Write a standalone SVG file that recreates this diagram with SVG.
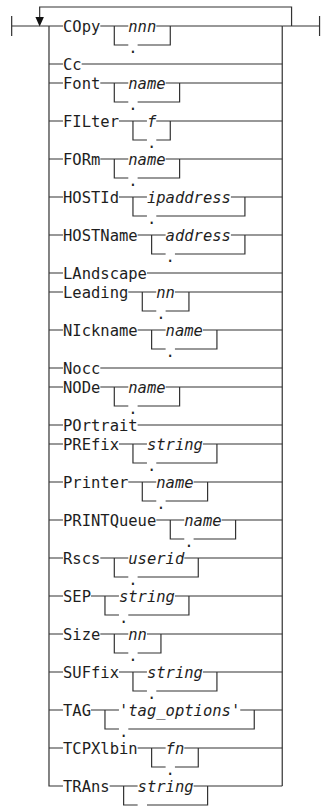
<svg xmlns="http://www.w3.org/2000/svg" width="321" height="806" viewBox="0 0 321 806">
<style>
text{font-family:"DejaVu Sans Mono","Liberation Mono",monospace;font-size:15.5px;fill:#1e1e1e}
.a{font-style:italic}
.d{text-anchor:middle}
path{fill:none;stroke:#333;stroke-width:1.2}
.ah{fill:#111;stroke:none}
</style>
<rect width="321" height="806" fill="#fff"/>
<g id="connectors">
<path d="M11.67 16V36M11.67 26H48.99M282.24 26H319.56M319.56 16V36"/>
<path d="M291.57 26V7H39.66V18"/>
<polygon class="ah" points="35.4,17 43.9,17 39.66,26.5"/>
<path d="M48.99 26V786H62.98M282.24 26V786"/>
<!-- COpy -->
<path d="M48.99 26H62.98M100.30 26H128.29M156.28 26H282.24M114.30 26V45H128.29M137.62 45H170.28V26"/>
<!-- Cc -->
<path d="M48.99 64H62.98M81.64 64H282.24"/>
<!-- Font -->
<path d="M48.99 83H62.98M100.30 83H128.29M165.61 83H282.24M114.30 83V102H128.29M137.62 102H179.61V83"/>
<!-- FILter -->
<path d="M48.99 121H62.98M118.96 121H146.95M156.28 121H282.24M132.96 121V140H146.95M156.28 140H170.28V121"/>
<!-- FORm -->
<path d="M48.99 159H62.98M100.30 159H128.29M165.61 159H282.24M114.30 159V178H128.29M137.62 178H179.61V159"/>
<!-- HOSTId -->
<path d="M48.99 197H62.98M118.96 197H146.95M230.92 197H282.24M132.96 197V216H146.95M156.28 216H244.92V197"/>
<!-- HOSTName -->
<path d="M48.99 235H62.98M137.62 235H165.61M230.92 235H282.24M151.62 235V254H165.61M174.94 254H244.92V235"/>
<!-- LAndscape -->
<path d="M48.99 273H62.98M146.95 273H282.24"/>
<!-- Leading -->
<path d="M48.99 292H62.98M128.29 292H156.28M174.94 292H282.24M142.29 292V311H156.28M165.61 311H188.94V292"/>
<!-- NIckname -->
<path d="M48.99 330H62.98M137.62 330H165.61M202.93 330H282.24M151.62 330V349H165.61M174.94 349H216.93V330"/>
<!-- Nocc -->
<path d="M48.99 368H62.98M100.30 368H282.24"/>
<!-- NODe -->
<path d="M48.99 387H62.98M100.30 387H128.29M165.61 387H282.24M114.30 387V406H128.29M137.62 406H179.61V387"/>
<!-- POrtrait -->
<path d="M48.99 425H62.98M137.62 425H282.24"/>
<!-- PREfix -->
<path d="M48.99 444H62.98M118.96 444H146.95M202.93 444H282.24M132.96 444V463H146.95M156.28 463H216.93V444"/>
<!-- Printer -->
<path d="M48.99 482H62.98M128.29 482H156.28M193.60 482H282.24M142.29 482V501H156.28M165.61 501H207.60V482"/>
<!-- PRINTQueue -->
<path d="M48.99 520H62.98M156.28 520H184.27M221.59 520H282.24M170.28 520V539H184.27M193.60 539H235.59V520"/>
<!-- Rscs -->
<path d="M48.99 558H62.98M100.30 558H128.29M184.27 558H282.24M114.30 558V577H128.29M137.62 577H198.27V558"/>
<!-- SEP -->
<path d="M48.99 596H62.98M90.97 596H118.96M174.94 596H282.24M104.97 596V615H118.96M128.29 615H188.94V596"/>
<!-- Size -->
<path d="M48.99 634H62.98M100.30 634H128.29M146.95 634H282.24M114.30 634V653H128.29M137.62 653H160.95V634"/>
<!-- SUFfix -->
<path d="M48.99 672H62.98M118.96 672H146.95M202.93 672H282.24M132.96 672V691H146.95M156.28 691H216.93V672"/>
<!-- TAG -->
<path d="M48.99 710H62.98M90.97 710H118.96M240.25 710H282.24M104.97 710V729H118.96M128.29 729H254.25V710"/>
<!-- TCPXlbin -->
<path d="M48.99 748H62.98M137.62 748H165.61M184.27 748H282.24M151.62 748V767H165.61M174.94 767H198.27V748"/>
<!-- TRAns -->
<path d="M109.63 786H137.62M193.60 786H282.24M123.63 786V805H137.62M146.95 805H207.60V786"/>
</g>
<g id="opt-copy"><text x="62.98" y="32">COpy</text><text class="a" x="128.29" y="32">nnn</text><text class="d" x="132.96" y="53">.</text></g>
<g id="opt-cc"><text x="62.98" y="70">Cc</text></g>
<g id="opt-font"><text x="62.98" y="89">Font</text><text class="a" x="128.29" y="89">name</text><text class="d" x="132.96" y="110">.</text></g>
<g id="opt-filter"><text x="62.98" y="127">FILter</text><text class="a" x="146.95" y="127">f</text><text class="d" x="151.62" y="148">.</text></g>
<g id="opt-form"><text x="62.98" y="165">FORm</text><text class="a" x="128.29" y="165">name</text><text class="d" x="132.96" y="186">.</text></g>
<g id="opt-hostid"><text x="62.98" y="203">HOSTId</text><text class="a" x="146.95" y="203">ipaddress</text><text class="d" x="151.62" y="224">.</text></g>
<g id="opt-hostname"><text x="62.98" y="241">HOSTName</text><text class="a" x="165.61" y="241">address</text><text class="d" x="170.28" y="262">.</text></g>
<g id="opt-landscape"><text x="62.98" y="279">LAndscape</text></g>
<g id="opt-leading"><text x="62.98" y="298">Leading</text><text class="a" x="156.28" y="298">nn</text><text class="d" x="160.95" y="319">.</text></g>
<g id="opt-nickname"><text x="62.98" y="336">NIckname</text><text class="a" x="165.61" y="336">name</text><text class="d" x="170.28" y="357">.</text></g>
<g id="opt-nocc"><text x="62.98" y="374">Nocc</text></g>
<g id="opt-node"><text x="62.98" y="393">NODe</text><text class="a" x="128.29" y="393">name</text><text class="d" x="132.96" y="414">.</text></g>
<g id="opt-portrait"><text x="62.98" y="431">POrtrait</text></g>
<g id="opt-prefix"><text x="62.98" y="450">PREfix</text><text class="a" x="146.95" y="450">string</text><text class="d" x="151.62" y="471">.</text></g>
<g id="opt-printer"><text x="62.98" y="488">Printer</text><text class="a" x="156.28" y="488">name</text><text class="d" x="160.95" y="509">.</text></g>
<g id="opt-printqueue"><text x="62.98" y="526">PRINTQueue</text><text class="a" x="184.27" y="526">name</text><text class="d" x="188.94" y="547">.</text></g>
<g id="opt-rscs"><text x="62.98" y="564">Rscs</text><text class="a" x="128.29" y="564">userid</text><text class="d" x="132.96" y="585">.</text></g>
<g id="opt-sep"><text x="62.98" y="602">SEP</text><text class="a" x="118.96" y="602">string</text><text class="d" x="123.63" y="623">.</text></g>
<g id="opt-size"><text x="62.98" y="640">Size</text><text class="a" x="128.29" y="640">nn</text><text class="d" x="132.96" y="661">.</text></g>
<g id="opt-suffix"><text x="62.98" y="678">SUFfix</text><text class="a" x="146.95" y="678">string</text><text class="d" x="151.62" y="699">.</text></g>
<g id="opt-tag"><text x="62.98" y="716">TAG</text><text class="a" x="118.96" y="716">'tag_options'</text><text class="d" x="123.63" y="737">.</text></g>
<g id="opt-tcpxlbin"><text x="62.98" y="754">TCPXlbin</text><text class="a" x="165.61" y="754">fn</text><text class="d" x="170.28" y="775">.</text></g>
<g id="opt-trans"><text x="62.98" y="792">TRAns</text><text class="a" x="137.62" y="792">string</text></g>
</svg>
